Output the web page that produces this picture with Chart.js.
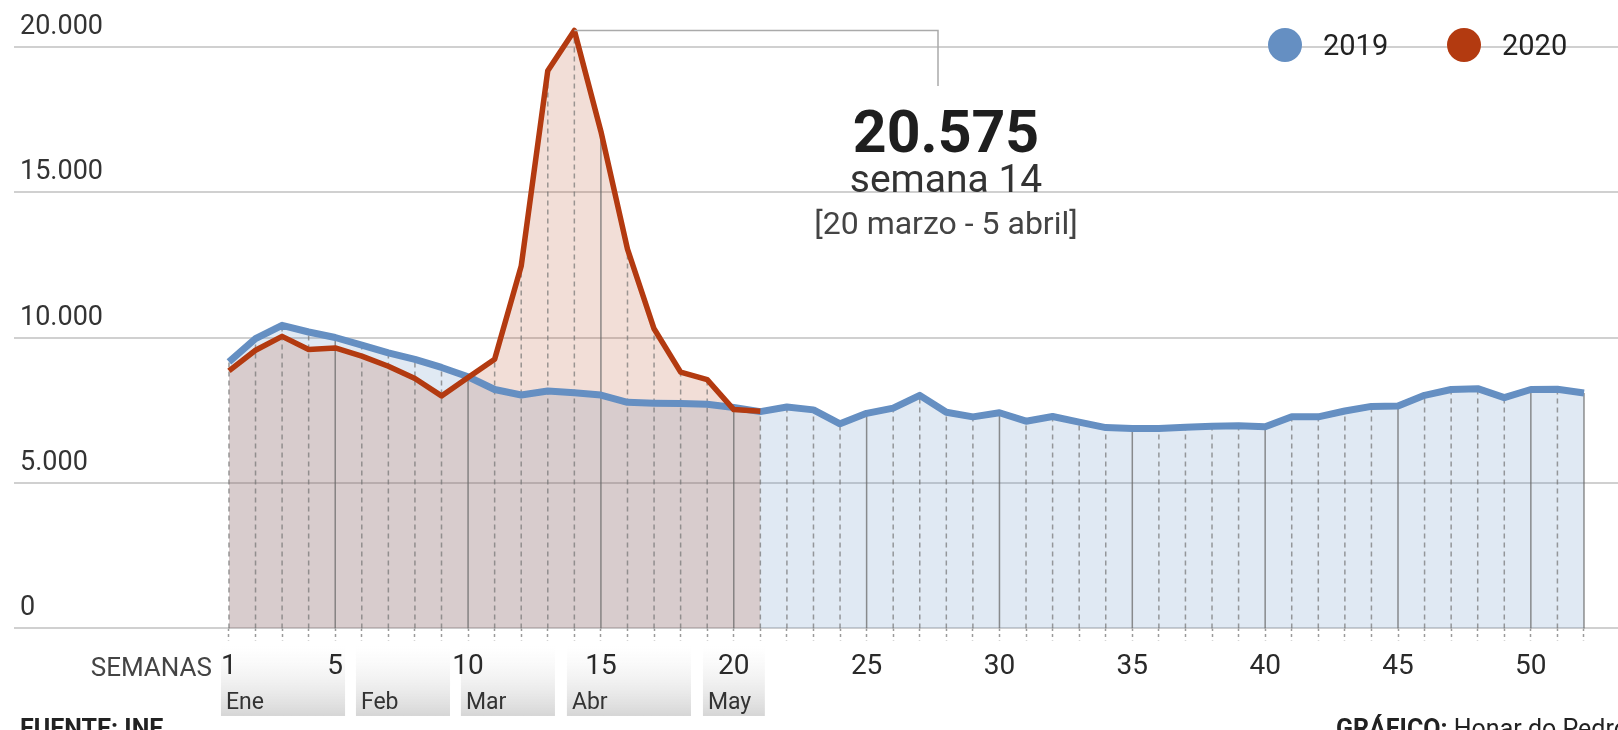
<!DOCTYPE html>
<html>
<head>
<meta charset="utf-8">
<script src="https://cdn.jsdelivr.net/npm/chart.js@4.4.0/dist/chart.umd.min.js"></script>
<style>
  html, body { margin: 0; padding: 0; background: #fff; }
  #wrap { width: 1618px; height: 730px; overflow: hidden; }
</style>
</head>
<body>
<div id="wrap"><canvas id="curveCanvas" width="1618" height="730"></canvas></div>
<script>
const weeks = [1, 2, 3, 4, 5, 6, 7, 8, 9, 10, 11, 12, 13, 14, 15, 16, 17, 18, 19, 20, 21, 22, 23, 24, 25, 26,
  27, 28, 29, 30, 31, 32, 33, 34, 35, 36, 37, 38, 39, 40, 41, 42, 43, 44, 45, 46, 47, 48, 49, 50, 51, 52];
const deaths2019 = [9170, 9970, 10430, 10200, 10010, 9750, 9480, 9260, 8980, 8660,
  8220, 8030, 8170, 8110, 8030, 7780, 7750, 7740, 7710, 7600,
  7460, 7620, 7520, 7040, 7400, 7580, 8020, 7440, 7280, 7420,
  7130, 7290, 7100, 6910, 6880, 6880, 6920, 6960, 6970, 6940,
  7280, 7280, 7480, 7640, 7650, 8020, 8220, 8250, 7940, 8220,
  8230, 8100];
const deaths2020 = [8860, 9570, 10050, 9600, 9650, 9370, 9020, 8600, 8000, 8630,
  9260, 12470, 19190, 20575, 17100, 13050, 10310, 8820, 8560, 7530, 7470];
const seriesNames = ['2019', '2020'];
const yTicks = [0, 5000, 10000, 15000, 20000];
const labeledWeeks = [1, 5, 10, 15, 20, 25, 30, 35, 40, 45, 50];
const months = ['Ene', 'Feb', 'Mar', 'Abr', 'May'];
const monthStart = [0.7, 5.78, 9.73, 13.72, 18.84];
const monthEnd = [5.37, 9.32, 13.27, 18.39, 21.17];
const peakDates = '[20 marzo - 5 abril]';

const FONT = 'Roboto, "Liberation Sans", sans-serif';
const BLUE = '#658fc2';
const RED = '#b33a10';

function fmt(v) {
  return String(v).replace(/\B(?=(\d{3})+(?!\d))/g, '.');
}

// month boxes under the week numbers
const monthBoxPlugin = {
  id: 'monthBoxes',
  beforeDraw: (chart) => {
    const ctx = chart.ctx;
    const x = chart.scales.x;
    months.forEach((m, i) => {
      const x1 = x.getPixelForValue(monthStart[i]);
      const x2 = x.getPixelForValue(monthEnd[i]);
      const g = ctx.createLinearGradient(0, 646, 0, 716);
      g.addColorStop(0, 'rgba(240,240,240,0)');
      g.addColorStop(1, '#d6d6d6');
      ctx.save();
      ctx.fillStyle = g;
      ctx.fillRect(x1, 646, x2 - x1, 70);
      ctx.fillStyle = '#333';
      ctx.font = '23px ' + FONT;
      ctx.textAlign = 'left';
      ctx.textBaseline = 'alphabetic';
      ctx.fillText(m, x1 + 5, 709);
      ctx.restore();
    });
  }
};

// vertical week lines, solid every 5 weeks, dashed otherwise
const weekLinesPlugin = {
  id: 'weekLines',
  beforeDatasetsDraw: (chart) => {
    const ctx = chart.ctx;
    const x = chart.scales.x;
    const y = chart.scales.y;
    const y0 = y.getPixelForValue(0);
    weeks.forEach((w, i) => {
      const top = Math.max(deaths2019[i], deaths2020[i] ?? 0);
      const px = x.getPixelForValue(w);
      const solid = w % 5 === 0 || i === weeks.length - 1;
      ctx.save();
      ctx.beginPath();
      ctx.moveTo(px, y0);
      ctx.lineTo(px, y.getPixelForValue(top));
      ctx.setLineDash(solid ? [] : [5, 4]);
      ctx.strokeStyle = solid ? 'rgba(105,105,105,0.75)' : 'rgba(115,115,115,0.7)';
      ctx.lineWidth = 1.5;
      ctx.stroke();
      ctx.restore();
    });
  }
};

// peak note, legend, axis caption and footer
const notesPlugin = {
  id: 'notes',
  afterDraw: (chart) => {
    const ctx = chart.ctx;
    const x = chart.scales.x;
    const y = chart.scales.y;
    const peak = Math.max(...deaths2020);
    const peakIdx = deaths2020.indexOf(peak);
    const px = x.getPixelForValue(weeks[peakIdx]);
    const py = y.getPixelForValue(peak);

    ctx.save();
    ctx.beginPath();
    ctx.moveTo(px, py);
    ctx.lineTo(938, py);
    ctx.lineTo(938, 86);
    ctx.strokeStyle = '#aaaaaa';
    ctx.lineWidth = 1.5;
    ctx.stroke();

    ctx.textAlign = 'center';
    ctx.textBaseline = 'alphabetic';
    ctx.fillStyle = '#1e1e1e';
    ctx.font = 'bold 59px ' + FONT;
    ctx.fillText(fmt(peak), 946, 152);
    ctx.fillStyle = '#333';
    ctx.font = '39px ' + FONT;
    ctx.fillText('semana ' + weeks[peakIdx], 946, 192);
    ctx.fillStyle = '#444';
    ctx.font = '32px ' + FONT;
    ctx.fillText(peakDates, 946, 234);

    // legend
    ctx.textAlign = 'left';
    ctx.font = '29px ' + FONT;
    chart.data.datasets.forEach((ds, i) => {
      const cx = 1285 + i * 179;
      ctx.beginPath();
      ctx.arc(cx, 45, 17, 0, Math.PI * 2);
      ctx.fillStyle = ds.borderColor;
      ctx.fill();
      ctx.fillStyle = '#222';
      ctx.fillText(ds.label, cx + 38, 55);
    });

    // axis caption
    ctx.textAlign = 'right';
    ctx.fillStyle = '#444';
    ctx.font = '26px ' + FONT;
    ctx.fillText('SEMANAS', 212, 676);

    // footer
    ctx.textAlign = 'left';
    ctx.fillStyle = '#222';
    ctx.font = 'bold 25px ' + FONT;
    ctx.fillText('FUENTE: INE', 20, 737);
    ctx.fillText('GRÁFICO:', 1336, 737);
    const w = ctx.measureText('GRÁFICO: ').width;
    ctx.font = '25px ' + FONT;
    ctx.fillText('Honar do Pedro', 1336 + w, 737);
    ctx.restore();
  }
};

const ctx = document.getElementById('curveCanvas').getContext('2d');
const chart = new Chart(ctx, {
  type: 'line',
  data: {
    datasets: [{
      label: seriesNames[0],
      data: weeks.map((w, i) => ({ x: w, y: deaths2019[i] })),
      borderColor: BLUE,
      borderWidth: 7,
      backgroundColor: 'rgba(101,143,194,0.2)',
      fill: 'origin',
      pointRadius: 0,
      tension: 0,
      borderJoinStyle: 'round',
      order: 1
    }, {
      label: seriesNames[1],
      data: deaths2020.map((v, i) => ({ x: weeks[i], y: v })),
      borderColor: RED,
      borderWidth: 5.5,
      backgroundColor: 'rgba(179,58,16,0.17)',
      fill: 'origin',
      pointRadius: 0,
      tension: 0,
      borderJoinStyle: 'round',
      order: 0
    }]
  },
  options: {
    responsive: false,
    animation: false,
    devicePixelRatio: 1,
    layout: { autoPadding: false, padding: { left: 2, right: 0, top: 0, bottom: 36 } },
    scales: {
      x: {
        type: 'linear',
        min: -7.09,
        max: 53.28,
        afterBuildTicks: (scale) => {
          scale.ticks = weeks.map(w => ({ value: w }));
        },
        ticks: {
          autoSkip: false,
          maxRotation: 0,
          padding: 10,
          color: '#2a2a2a',
          font: { family: FONT, size: 28 },
          callback: (v) => labeledWeeks.includes(v) ? String(v) : ''
        },
        grid: {
          drawOnChartArea: false,
          drawTicks: true,
          tickLength: 12,
          tickColor: '#9a9a9a',
          tickWidth: 1.5,
          tickBorderDash: [3, 3]
        },
        border: { display: false }
      },
      y: {
        min: 0,
        max: 20860,
        afterBuildTicks: (scale) => {
          scale.ticks = yTicks.map(v => ({ value: v }));
        },
        ticks: {
          mirror: true,
          padding: 6,
          labelOffset: -20,
          color: '#333',
          font: { family: FONT, size: 27 },
          callback: (v) => fmt(v)
        },
        grid: { color: '#d0d0d0', lineWidth: 2, drawTicks: false },
        border: { display: false }
      }
    },
    plugins: {
      legend: { display: false },
      tooltip: { enabled: false },
      filler: { drawTime: 'beforeDatasetsDraw' }
    }
  },
  plugins: [monthBoxPlugin, weekLinesPlugin, notesPlugin]
});
</script>
</body>
</html>
